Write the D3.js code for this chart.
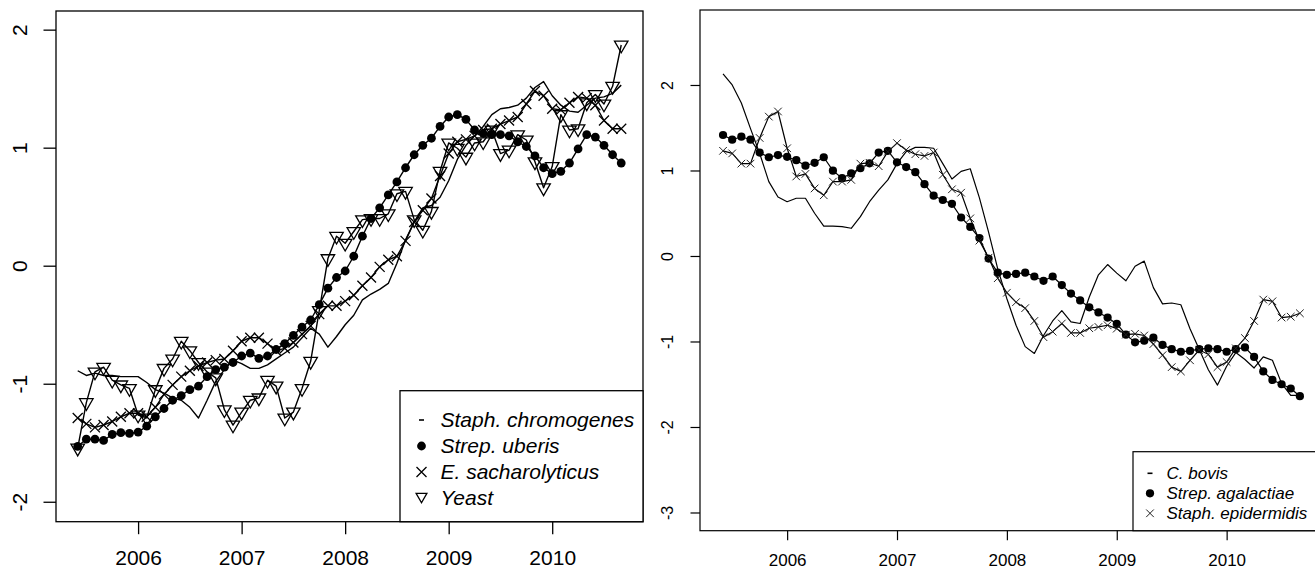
<!DOCTYPE html>
<html><head><meta charset="utf-8">
<script src="https://cdn.jsdelivr.net/npm/d3@7"></script>
<style>
body{margin:0;background:#fff;}
svg{display:block;}
text{font-family:"Liberation Sans",Arial,Helvetica,sans-serif;fill:#000;}
</style></head>
<body><svg id="c" width="1315" height="570"></svg>
<script>
const months = ["2005-06","2005-07","2005-08","2005-09","2005-10","2005-11","2005-12",
"2006-01","2006-02","2006-03","2006-04","2006-05","2006-06","2006-07","2006-08","2006-09","2006-10","2006-11","2006-12",
"2007-01","2007-02","2007-03","2007-04","2007-05","2007-06","2007-07","2007-08","2007-09","2007-10","2007-11","2007-12",
"2008-01","2008-02","2008-03","2008-04","2008-05","2008-06","2008-07","2008-08","2008-09","2008-10","2008-11","2008-12",
"2009-01","2009-02","2009-03","2009-04","2009-05","2009-06","2009-07","2009-08","2009-09","2009-10","2009-11","2009-12",
"2010-01","2010-02","2010-03","2010-04","2010-05","2010-06","2010-07","2010-08","2010-09"];

// Left panel series
const staphChromogenes = [-0.89,-0.93,-0.91,-0.93,-0.93,-0.94,-0.94,-0.94,-0.99,-1.05,
-1.08,-1.12,-1.14,-1.20,-1.29,-1.14,-0.98,-0.88,-0.80,-0.83,
-0.87,-0.87,-0.84,-0.79,-0.74,-0.69,-0.61,-0.53,-0.58,-0.69,
-0.60,-0.50,-0.42,-0.29,-0.24,-0.20,-0.15,0.02,0.22,0.37,
0.49,0.51,0.58,0.72,0.90,1.02,1.10,1.18,1.28,1.33,
1.34,1.36,1.42,1.51,1.56,1.44,1.36,1.31,1.30,1.36,
1.42,1.43,1.46,1.53];
const strepUberis = [-1.53,-1.47,-1.47,-1.48,-1.43,-1.415,-1.42,-1.41,-1.36,-1.28,
-1.21,-1.14,-1.10,-1.05,-1.02,-0.94,-0.88,-0.86,-0.82,-0.765,
-0.74,-0.785,-0.765,-0.71,-0.66,-0.59,-0.52,-0.46,-0.33,-0.19,
-0.10,-0.045,0.08,0.25,0.40,0.49,0.60,0.71,0.83,0.94,
1.02,1.08,1.18,1.26,1.28,1.24,1.15,1.12,1.11,1.11,
1.10,1.05,1.01,0.93,0.83,0.78,0.80,0.87,0.99,1.11,
1.09,1.02,0.94,0.87];
const eSacharolyticus = [-1.29,-1.34,-1.37,-1.35,-1.32,-1.28,-1.25,-1.25,-1.28,-1.20,
-1.09,-1.01,-0.94,-0.89,-0.85,-0.82,-0.80,-0.79,-0.72,-0.64,
-0.61,-0.61,-0.66,-0.72,-0.70,-0.65,-0.58,-0.51,-0.41,-0.34,
-0.34,-0.30,-0.25,-0.17,-0.10,-0.01,0.05,0.08,0.21,0.37,
0.47,0.57,0.76,0.95,1.05,1.07,1.10,1.15,1.16,1.20,
1.23,1.26,1.37,1.48,1.44,1.33,1.32,1.38,1.43,1.42,
1.36,1.23,1.16,1.16];
const yeast = [-1.545,-1.16,-0.90,-0.86,-0.97,-1.01,-1.04,-1.265,-1.29,-1.05,
-0.87,-0.79,-0.64,-0.72,-0.82,-0.90,-0.95,-1.22,-1.35,-1.24,
-1.14,-1.12,-0.97,-1.02,-1.29,-1.24,-1.04,-0.81,-0.38,0.06,
0.25,0.19,0.29,0.39,0.40,0.40,0.44,0.61,0.63,0.39,
0.30,0.46,0.80,1.04,0.995,0.92,1.04,1.05,1.15,0.95,
0.98,1.11,1.065,0.88,0.66,0.84,1.28,1.15,1.16,1.38,
1.45,1.37,1.52,1.87];

// Right panel series
const cBovis = [2.13,2.00,1.79,1.49,1.20,0.87,0.69,0.635,0.675,0.675,
0.50,0.35,0.35,0.343,0.324,0.46,0.635,0.77,0.89,1.08,
1.22,1.27,1.27,1.26,1.08,0.90,0.99,1.02,0.68,0.28,
-0.15,-0.50,-0.81,-1.06,-1.14,-0.93,-0.76,-0.64,-0.77,-0.79,
-0.48,-0.22,-0.10,-0.20,-0.29,-0.12,-0.06,-0.37,-0.56,-0.55,
-0.57,-0.85,-1.09,-1.33,-1.51,-1.29,-1.13,-1.21,-1.31,-1.18,
-1.22,-1.49,-1.63,-1.63];
const strepAgalactiae = [1.415,1.36,1.395,1.36,1.21,1.155,1.18,1.16,1.12,1.056,
1.09,1.155,0.998,0.91,0.967,1.026,1.084,1.21,1.23,1.096,
1.04,0.98,0.84,0.705,0.655,0.61,0.45,0.34,0.21,-0.03,
-0.195,-0.22,-0.21,-0.195,-0.24,-0.29,-0.24,-0.34,-0.44,-0.52,
-0.60,-0.66,-0.72,-0.795,-0.92,-1.01,-0.99,-0.955,-1.04,-1.09,
-1.12,-1.11,-1.09,-1.08,-1.09,-1.12,-1.09,-1.07,-1.18,-1.35,
-1.45,-1.50,-1.55,-1.64];
const staphEpidermidis = [1.23,1.20,1.08,1.08,1.38,1.63,1.69,1.26,0.93,0.96,
0.79,0.71,0.87,0.87,0.89,1.08,1.09,1.05,1.22,1.32,
1.24,1.19,1.17,1.21,0.95,0.78,0.74,0.44,0.18,-0.02,
-0.26,-0.43,-0.54,-0.61,-0.76,-0.95,-0.885,-0.79,-0.90,-0.90,
-0.845,-0.83,-0.81,-0.85,-0.92,-0.91,-0.93,-1.03,-1.16,-1.30,
-1.35,-1.22,-1.10,-1.15,-1.30,-1.24,-1.08,-0.96,-0.76,-0.51,
-0.53,-0.72,-0.71,-0.67];

const yearTicks = [2006, 2007, 2008, 2009, 2010];
const leftYTicks = [-2, -1, 0, 1, 2];
const rightYTicks = [-3, -2, -1, 0, 1, 2];
const leftNames = ["Staph. chromogenes", "Strep. uberis", "E. sacharolyticus", "Yeast"];
const rightNames = ["C. bovis", "Strep. agalactiae", "Staph. epidermidis"];

const tYear = months.map(m => { const [y, mo] = m.split("-").map(Number); return y + (mo - 1) / 12; });

const svg = d3.select("#c");

function triPath(R) {
  const hw = 1.3468 * R, top = -0.7776 * R, tip = 1.5551 * R;
  return `M${-hw},${top}L${hw},${top}L0,${tip}Z`;
}
function crossPath(h) { return `M${-h},${-h}L${h},${h}M${-h},${h}L${h},${-h}`; }

function panel(cfg) {
  const g = svg.append("g");
  const x = d3.scaleLinear().domain([2005.207, 2010.877]).range(cfg.xr);
  const y = d3.scaleLinear().domain(cfg.yd).range(cfg.yr);
  const line = d3.line().x((d, i) => x(tYear[i])).y(d => y(d));

  const ax = g.append("g").attr("transform", `translate(${cfg.xr[0]},0)`)
    .call(d3.axisLeft(y).tickValues(cfg.yTicks).tickSize(cfg.tick).tickSizeOuter(0).tickFormat(d => String(d)));
  ax.select(".domain").remove();
  ax.selectAll("line").attr("stroke", "#000").attr("stroke-width", cfg.lw);
  ax.selectAll("text").attr("x", null).attr("dy", null).attr("text-anchor", "middle")
    .attr("transform", `translate(${cfg.ylabX},0) rotate(-90)`)
    .style("font-size", cfg.ylabFs + "px").attr("fill", "#000");

  const bx = g.append("g").attr("transform", `translate(0,${cfg.yr[0]})`)
    .call(d3.axisBottom(x).tickValues(yearTicks).tickSize(cfg.tick).tickSizeOuter(0).tickFormat(d3.format("d")));
  bx.select(".domain").remove();
  bx.selectAll("line").attr("stroke", "#000").attr("stroke-width", cfg.lw);
  bx.selectAll("text").attr("dy", null).attr("y", cfg.xlabY)
    .style("font-size", cfg.xlabFs + "px").attr("fill", "#000");

  g.append("rect").attr("x", cfg.xr[0]).attr("y", cfg.yr[1])
    .attr("width", cfg.xr[1] - cfg.xr[0]).attr("height", cfg.yr[0] - cfg.yr[1])
    .attr("fill", "none").attr("stroke", "#000").attr("stroke-width", cfg.lw);

  cfg.series.forEach(s => {
    g.append("path").datum(s.data).attr("d", line).attr("fill", "none")
      .attr("stroke", "#000").attr("stroke-width", cfg.dataLw).attr("stroke-linejoin", "round");
    const pts = g.append("g");
    if (s.sym === "dot") {
      pts.selectAll("circle").data(s.data).join("circle")
        .attr("cx", (d, i) => x(tYear[i])).attr("cy", d => y(d)).attr("r", cfg.dotR).attr("fill", "#000");
    } else if (s.sym === "x") {
      pts.selectAll("path").data(s.data).join("path")
        .attr("transform", (d, i) => `translate(${x(tYear[i])},${y(d)})`)
        .attr("d", crossPath(cfg.xH)).attr("stroke", cfg.xCol).attr("stroke-width", cfg.symLw).attr("fill", "none");
    } else if (s.sym === "tri") {
      pts.selectAll("path").data(s.data).join("path")
        .attr("transform", (d, i) => `translate(${x(tYear[i])},${y(d)})`)
        .attr("d", triPath(cfg.triR)).attr("stroke", "#000").attr("stroke-width", cfg.symLw).attr("fill", "none");
    }
  });

  const L = cfg.legend;
  g.append("rect").attr("x", L.x).attr("y", L.y).attr("width", L.w).attr("height", L.h)
    .attr("fill", "#fff").attr("stroke", "#000").attr("stroke-width", cfg.lw);
  cfg.series.forEach((s, k) => {
    const cy = L.row0 + k * L.step;
    g.append("text").attr("x", L.tx).attr("y", cy).attr("dy", "0.35em")
      .style("font-size", L.fs + "px").style("font-style", "italic").text(s.name);
    const sg = g.append("g").attr("transform", `translate(${L.sx},${cy})`);
    if (s.sym === "dash") {
      sg.append("line").attr("x1", -2.5).attr("x2", 2.5).attr("y1", 0).attr("y2", 0)
        .attr("stroke", "#000").attr("stroke-width", 1.6);
    } else if (s.sym === "dot") {
      sg.append("circle").attr("r", cfg.dotR).attr("fill", "#000");
    } else if (s.sym === "x") {
      sg.append("path").attr("d", crossPath(cfg.xH)).attr("stroke", cfg.xCol).attr("stroke-width", cfg.symLw);
    } else if (s.sym === "tri") {
      sg.append("path").attr("d", triPath(cfg.triR * 0.8)).attr("transform", "translate(0,-1.5)")
        .attr("stroke", "#000").attr("stroke-width", cfg.symLw).attr("fill", "none");
    }
  });
}

panel({
  xr: [56, 643], yd: [-2.169, 2.158], yr: [521.7, 11], yTicks: leftYTicks,
  tick: 12.5, lw: 1.3, dataLw: 1.4, symLw: 1.3, ylabX: -29, ylabFs: 21, xlabY: 43.5, xlabFs: 21,
  dotR: 4.4, xH: 5, triR: 5, xCol: "#000",
  series: [
    { name: leftNames[0], data: staphChromogenes, sym: "dash" },
    { name: leftNames[1], data: strepUberis, sym: "dot" },
    { name: leftNames[2], data: eSacharolyticus, sym: "x" },
    { name: leftNames[3], data: yeast, sym: "tri" }
  ],
  legend: { x: 400, y: 390.7, w: 243, h: 131, row0: 420, step: 26, sx: 421.5, tx: 440.5, fs: 21 }
});

panel({
  xr: [700, 1323], yd: [-3.213, 2.877], yr: [530.7, 10], yTicks: rightYTicks,
  tick: 9.5, lw: 1.2, dataLw: 1.2, symLw: 1, ylabX: -27, ylabFs: 16, xlabY: 35.5, xlabFs: 17,
  dotR: 4.1, xH: 3.8, triR: 4, xCol: "#222",
  series: [
    { name: rightNames[0], data: cBovis, sym: "dash" },
    { name: rightNames[1], data: strepAgalactiae, sym: "dot" },
    { name: rightNames[2], data: staphEpidermidis, sym: "x" }
  ],
  legend: { x: 1133, y: 451.7, w: 200, h: 79, row0: 473.3, step: 20, sx: 1150, tx: 1166.5, fs: 17 }
});
</script>
</body></html>
